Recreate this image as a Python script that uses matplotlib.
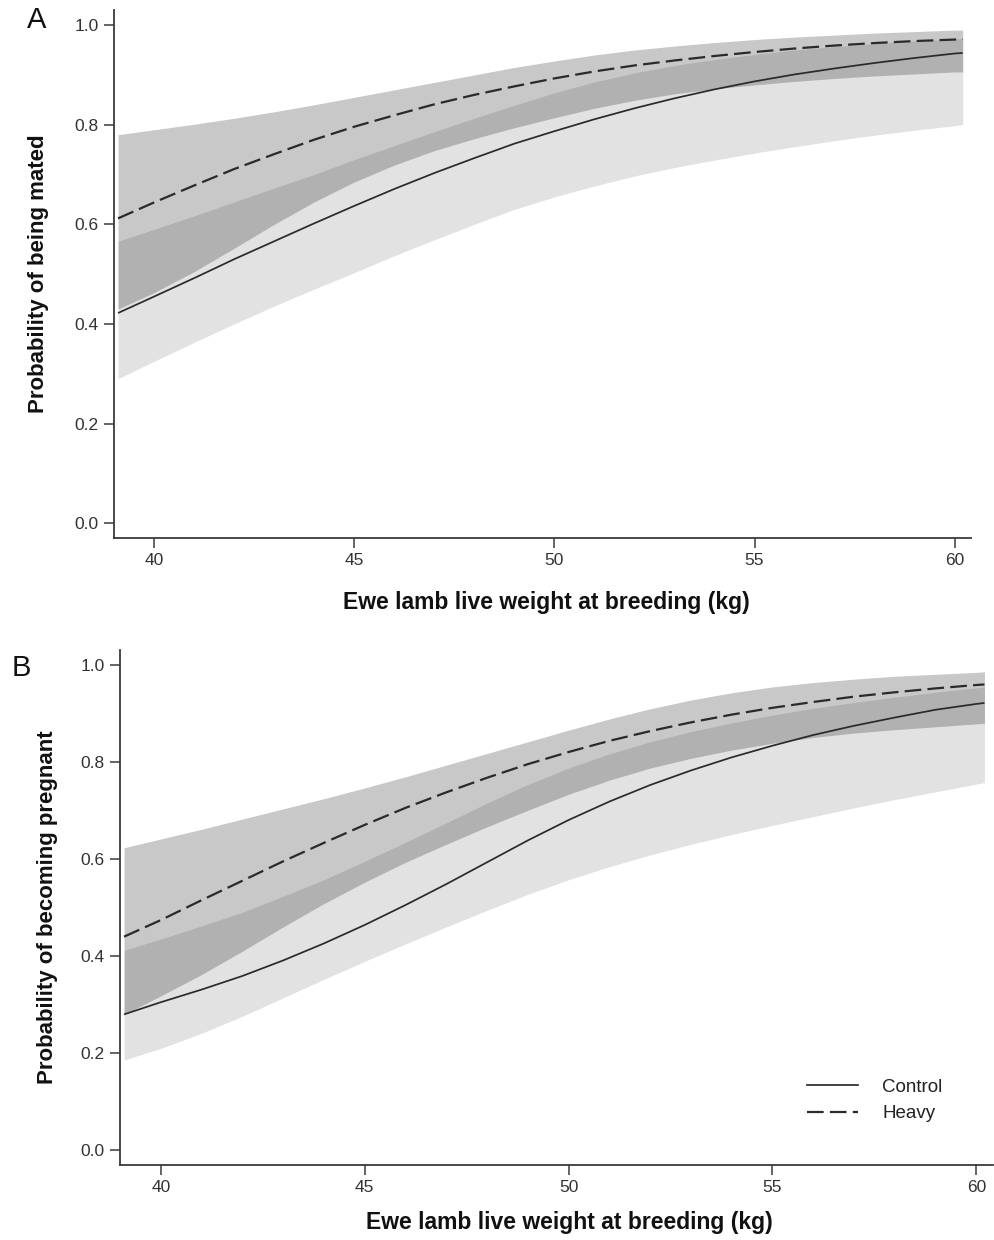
import matplotlib
matplotlib.use("Agg")
import matplotlib.pyplot as plt
from matplotlib.lines import Line2D

plt.rcParams['font.family'] = ['Liberation Sans', 'DejaVu Sans']

# Live weight grid (kg)
weight = [39.1, 40, 41, 42, 43, 44, 45, 46, 47, 48, 49, 50,
          51, 52, 53, 54, 55, 56, 57, 58, 59, 60, 60.2]

# Panel A: probability of being mated
mated_control = [0.422, 0.455, 0.492, 0.530, 0.566, 0.602, 0.637, 0.671, 0.703, 0.733, 0.762, 0.787,
                 0.811, 0.833, 0.853, 0.871, 0.887, 0.901, 0.913, 0.924, 0.934, 0.943, 0.944]
mated_control_lo = [0.290, 0.325, 0.363, 0.400, 0.436, 0.470, 0.503, 0.537, 0.569, 0.600, 0.630, 0.655,
                    0.677, 0.697, 0.714, 0.729, 0.743, 0.756, 0.768, 0.779, 0.789, 0.798, 0.800]
mated_control_hi = [0.566, 0.590, 0.617, 0.645, 0.673, 0.700, 0.730, 0.758, 0.786, 0.813, 0.839, 0.864,
                    0.886, 0.904, 0.919, 0.931, 0.941, 0.950, 0.957, 0.963, 0.968, 0.972, 0.973]
mated_heavy = [0.612, 0.644, 0.678, 0.711, 0.741, 0.770, 0.796, 0.819, 0.841, 0.860, 0.877, 0.893,
               0.907, 0.919, 0.929, 0.938, 0.946, 0.953, 0.959, 0.964, 0.968, 0.971, 0.972]
mated_heavy_lo = [0.430, 0.463, 0.505, 0.552, 0.600, 0.645, 0.685, 0.719, 0.748, 0.772, 0.794, 0.814,
                  0.833, 0.849, 0.862, 0.872, 0.880, 0.887, 0.893, 0.898, 0.902, 0.906, 0.906]
mated_heavy_hi = [0.780, 0.790, 0.801, 0.813, 0.826, 0.840, 0.855, 0.870, 0.885, 0.900, 0.915, 0.928,
                  0.940, 0.950, 0.958, 0.965, 0.971, 0.976, 0.980, 0.984, 0.987, 0.990, 0.990]

# Panel B: probability of becoming pregnant
preg_control = [0.280, 0.305, 0.331, 0.359, 0.391, 0.426, 0.464, 0.505, 0.548, 0.593, 0.638, 0.680,
                0.718, 0.752, 0.782, 0.809, 0.833, 0.855, 0.874, 0.891, 0.907, 0.919, 0.921]
preg_control_lo = [0.186, 0.210, 0.241, 0.276, 0.314, 0.352, 0.389, 0.425, 0.460, 0.494, 0.527, 0.557,
                   0.584, 0.608, 0.630, 0.650, 0.669, 0.687, 0.705, 0.722, 0.738, 0.754, 0.757]
preg_control_hi = [0.412, 0.435, 0.462, 0.490, 0.523, 0.557, 0.595, 0.634, 0.674, 0.715, 0.753, 0.787,
                   0.816, 0.841, 0.862, 0.880, 0.896, 0.910, 0.922, 0.933, 0.943, 0.952, 0.954]
preg_heavy = [0.440, 0.474, 0.515, 0.555, 0.595, 0.633, 0.670, 0.705, 0.737, 0.767, 0.795, 0.820,
              0.843, 0.863, 0.881, 0.897, 0.911, 0.923, 0.934, 0.943, 0.951, 0.958, 0.959]
preg_heavy_lo = [0.280, 0.318, 0.362, 0.410, 0.460, 0.508, 0.552, 0.593, 0.630, 0.666, 0.700, 0.733,
                 0.762, 0.787, 0.807, 0.824, 0.838, 0.850, 0.859, 0.866, 0.872, 0.878, 0.879]
preg_heavy_hi = [0.623, 0.641, 0.661, 0.682, 0.703, 0.724, 0.746, 0.769, 0.793, 0.817, 0.841, 0.865,
                 0.888, 0.909, 0.927, 0.942, 0.954, 0.963, 0.970, 0.976, 0.980, 0.984, 0.985]

x_ticks = [40, 45, 50, 55, 60]
y_ticks = [0.0, 0.2, 0.4, 0.6, 0.8, 1.0]
x_label = "Ewe lamb live weight at breeding (kg)"
group_names = ["Control", "Heavy"]

INK = "#2a2a2a"
AXC = "#3a3a3a"

fig = plt.figure(figsize=(9.95, 12.4), dpi=100)
ax_a = fig.add_axes([0.1146, 0.566, 0.861, 0.4258])
ax_b = fig.add_axes([0.1206, 0.0605, 0.877, 0.4153])


def draw_panel(ax, ctrl, ctrl_lo, ctrl_hi, heavy, heavy_lo, heavy_hi, ylabel):
    ax.fill_between(weight, ctrl_lo, ctrl_hi, color="black", alpha=0.115, linewidth=0)
    ax.fill_between(weight, heavy_lo, heavy_hi, color="black", alpha=0.215, linewidth=0)
    ax.plot(weight, ctrl, color=INK, lw=1.25, solid_capstyle="butt", solid_joinstyle="round")
    ax.plot(weight, heavy, color=INK, lw=1.6, dashes=(7.5, 2.8))
    ax.set_xlim(39.0, 60.4)
    ax.set_ylim(-0.03, 1.03)
    ax.set_xticks(x_ticks)
    ax.set_yticks(y_ticks)
    ax.set_yticklabels([f"{v:.1f}" for v in y_ticks])
    for side in ("top", "right"):
        ax.spines[side].set_visible(False)
    for side in ("left", "bottom"):
        ax.spines[side].set_color(AXC)
        ax.spines[side].set_linewidth(1.3)
    ax.tick_params(axis="both", direction="out", length=7, width=1.1, color=AXC,
                   labelsize=12.5, labelcolor="#333333", pad=4)
    ax.set_xlabel(x_label, fontsize=16.5, fontweight="bold", color="#111111")
    ax.set_ylabel(ylabel, fontsize=16, fontweight="bold", color="#111111")
    ax.xaxis.label.set_va("center")
    ax.yaxis.label.set_va("center")


draw_panel(ax_a, mated_control, mated_control_lo, mated_control_hi,
           mated_heavy, mated_heavy_lo, mated_heavy_hi, "Probability of being mated")
draw_panel(ax_b, preg_control, preg_control_lo, preg_control_hi,
           preg_heavy, preg_heavy_lo, preg_heavy_hi, "Probability of becoming pregnant")

ax_a.xaxis.set_label_coords(0.505, -0.121)
ax_a.yaxis.set_label_coords(-0.0887, 0.5)
ax_b.xaxis.set_label_coords(0.515, -0.111)
ax_b.yaxis.set_label_coords(-0.0836, 0.5)

handles = [Line2D([], [], color=INK, lw=1.25),
           Line2D([], [], color=INK, lw=1.6, dashes=(7.5, 2.8))]
ax_b.legend(handles, group_names, loc="lower right", bbox_to_anchor=(0.962, 0.05),
            frameon=False, fontsize=13.5, handlelength=2.7, handletextpad=1.3,
            labelspacing=0.5, labelcolor="#222222")

fig.text(0.037, 0.984, "A", fontsize=21, ha="center", va="center", color="#111111")
fig.text(0.021, 0.461, "B", fontsize=21, ha="center", va="center", color="#111111")

fig.savefig("out.png", dpi=100, facecolor="white")
